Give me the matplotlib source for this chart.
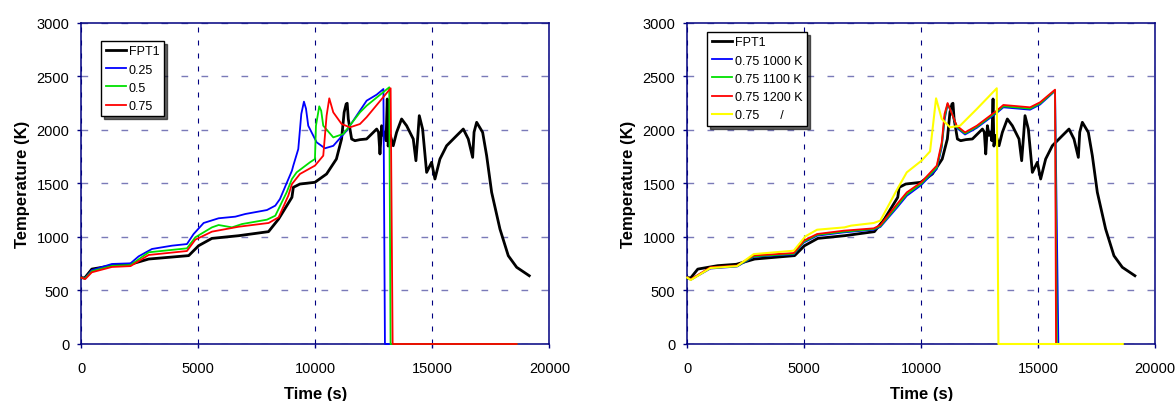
import matplotlib.pyplot as plt
import numpy as np

plt.rcParams['font.family'] = ['Liberation Sans', 'DejaVu Sans']

# measured FPT1 temperature (same experiment in both panels)
fpt1_t = [0, 150, 450, 1300, 2100, 2880, 4000, 4590, 5015, 5580, 6720, 8000, 8430, 9000,
          9060, 9340, 9980, 10480, 10900, 11120, 11230, 11316, 11360, 11408, 11550, 11690,
          11910, 12190, 12620, 12700, 12761, 12832, 12900, 12973, 13020, 13073, 13110,
          13200, 13328, 13471, 13685, 13899, 14183, 14297, 14380, 14440, 14582, 14754,
          14967, 15109, 15323, 15608, 16035, 16320, 16533, 16720, 16780, 16891, 17147,
          17318, 17531, 17886, 18242, 18600, 19138]
fpt1_T = [620, 618, 700, 732, 745, 794, 815, 826, 919, 987, 1012, 1050, 1168, 1371,
          1464, 1495, 1511, 1589, 1729, 1916, 2165, 2243, 2250, 2103, 1916, 1900,
          1910, 1916, 2009, 1980, 1776, 2040, 1950, 1978, 1900, 2290, 1850,
          1950, 1853, 1978, 2103, 2040, 1916, 1713, 1950, 2134, 2009, 1604,
          1698, 1542, 1729, 1853, 1947, 2009, 1916, 1744, 1980, 2072, 1978,
          1760, 1418, 1075, 825, 717, 638]

# left panel: 0.25 / 0.5 / 0.75
p025_t = [0, 150, 450, 1310, 2106, 2450, 3020, 3875, 4515, 4800, 5228, 5868, 6580, 7007,
          7933, 8289, 8488, 9000, 9058, 9271, 9400, 9513, 9600, 9697, 10055, 10410, 10766,
          11337, 11906, 12191, 12618, 12908, 12973, 18600]
p025_T = [620, 612, 690, 748, 754, 819, 888, 919, 934, 1028, 1131, 1175, 1190, 1215,
          1252, 1293, 1355, 1620, 1667, 1822, 2150, 2265, 2200, 2040, 1885, 1829, 1852,
          1994, 2181, 2274, 2330, 2383, 0, 0]

p05_t = [0, 150, 450, 1310, 2106, 2879, 4515, 4872, 5583, 5868, 6438, 6865, 7933, 8289,
         8773, 9000, 9200, 9769, 9983, 10026, 10167, 10250, 10338, 10766, 11195, 11906,
         12191, 13157, 13214, 18600]
p05_T = [620, 610, 680, 730, 738, 857, 894, 997, 1090, 1112, 1090, 1121, 1162, 1199,
         1417, 1542, 1604, 1698, 1729, 2040, 2221, 2180, 2040, 1931, 1963, 2165,
         2227, 2399, 0, 0]

p075_t = [0, 170, 450, 1310, 2106, 2879, 4515, 4872, 5583, 6723, 8005, 8432, 8844, 9000,
          9342, 9983, 10338, 10481, 10595, 10766, 11123, 11479, 11906, 12191, 13216,
          13302, 18600]
p075_T = [620, 607, 670, 720, 728, 832, 869, 975, 1050, 1096, 1131, 1184, 1386, 1495,
          1589, 1667, 1760, 2134, 2296, 2165, 2056, 2025, 2056, 2120, 2390,
          0, 0]

# right panel: 0.75 with 1000 / 1100 / 1200 K and 0.75 /
k_t = [0, 150, 989, 2130, 2842, 4553, 4981, 5550, 6690, 7973, 8256, 8970, 9384, 10000,
       10666, 10880, 11000, 11130, 11300, 11520, 11876, 12377, 13232, 13514, 14655,
       15083, 15724]
k1200_T = [622, 605, 717, 733, 828, 850, 966, 1028, 1059, 1081, 1112, 1308, 1417, 1511,
           1667, 1885, 2150, 2252, 2160, 2040, 1978, 2040, 2181, 2234, 2212,
           2259, 2377]
k1100_T = [620, 602, 710, 728, 820, 843, 956, 1020, 1050, 1074, 1102, 1290, 1400, 1498,
           1650, 1860, 2120, 2245, 2165, 2030, 1968, 2030, 2170, 2222, 2200,
           2248, 2370]
k1000_T = [618, 600, 705, 724, 815, 838, 948, 1012, 1043, 1068, 1094, 1275, 1385, 1485,
           1635, 1840, 2095, 2238, 2170, 2020, 1958, 2020, 2160, 2212, 2190,
           2238, 2365]
k1200_end = [15766, 18600]
k1100_end = [15800, 18600]
k1000_end = [15866, 18600]

yel_t = [0, 150, 989, 2130, 2842, 4553, 5050, 5550, 6723, 7000, 7973, 8256, 8960, 9384,
         10026, 10380, 10637, 10880, 11235, 11662, 12377, 13232, 13303, 18617]
yel_T = [620, 598, 710, 728, 840, 872, 1006, 1068, 1090, 1106, 1131, 1153, 1440, 1604,
         1715, 1800, 2296, 2103, 2025, 2040, 2196, 2390, 0, 0]

navy = '#000080'


def style(ax):
    ax.set_xlim(0, 20000)
    ax.set_ylim(0, 3000)
    ax.set_xticks(np.arange(0, 20001, 5000))
    ax.set_yticks(np.arange(0, 3001, 500))
    ax.set_xlabel('Time (s)', fontsize=12, fontweight='bold', labelpad=7.5)
    ax.set_ylabel('Temperature (K)', fontsize=12, fontweight='bold', labelpad=5)
    ax.tick_params(labelsize=10.5, direction='out', length=3, color=navy, width=1)
    ax.tick_params(axis='x', pad=9.5)
    ax.tick_params(axis='y', pad=5.5)
    for s in ax.spines.values():
        s.set_color(navy)
        s.set_linewidth(1.1)
    ax.xaxis.grid(True, color=navy, linestyle=(0, (4.5, 7.2)), linewidth=0.8)
    ax.yaxis.grid(True, color='#7a7ab8', linestyle=(0, (4.8, 9.6)), linewidth=1.0)


def add_legend(ax, y):
    leg = ax.legend(loc='upper left', bbox_to_anchor=(0.043, y), borderaxespad=0,
                    fontsize=9, handlelength=1.65, handletextpad=0.2, borderpad=0.35,
                    labelspacing=0.5, fancybox=False, framealpha=1,
                    shadow={'color': 'black', 'alpha': 0.6})
    leg.get_frame().set_edgecolor('black')
    leg.get_frame().set_linewidth(1.0)
    leg.set_zorder(10)


fig = plt.figure(figsize=(11.76, 4.02), dpi=100)
ax1 = fig.add_axes([0.0691, 0.1418, 0.3981, 0.7985])
ax2 = fig.add_axes([0.5844, 0.1418, 0.3978, 0.7985])

ax1.plot(fpt1_t, fpt1_T, color='black', lw=2.0, label='FPT1', zorder=3)
ax1.plot(p025_t, p025_T, color='#0000ff', lw=1.3, label='0.25', clip_on=False, zorder=3)
ax1.plot(p05_t, p05_T, color='#00e000', lw=1.3, label='0.5', clip_on=False, zorder=3)
ax1.plot(p075_t, p075_T, color='#ff0000', lw=1.3, label='0.75', clip_on=False, zorder=3)
style(ax1)
add_legend(ax1, 0.944)

ax2.plot(fpt1_t, fpt1_T, color='black', lw=2.0, label='FPT1', zorder=3)
ax2.plot(k_t + k1000_end, k1000_T + [0, 0], color='#0000ff', lw=1.3,
         label='0.75 1000 K', clip_on=False, zorder=3)
ax2.plot(k_t + k1100_end, k1100_T + [0, 0], color='#00e000', lw=1.3,
         label='0.75 1100 K', clip_on=False, zorder=3)
ax2.plot(k_t + k1200_end, k1200_T + [0, 0], color='#ff0000', lw=1.3,
         label='0.75 1200 K', clip_on=False, zorder=3)
ax2.plot(yel_t, yel_T, color='#ffff00', lw=1.5, label='0.75      /', clip_on=False,
         zorder=3)
style(ax2)
add_legend(ax2, 0.972)

fig.savefig('out.png', dpi=100)
